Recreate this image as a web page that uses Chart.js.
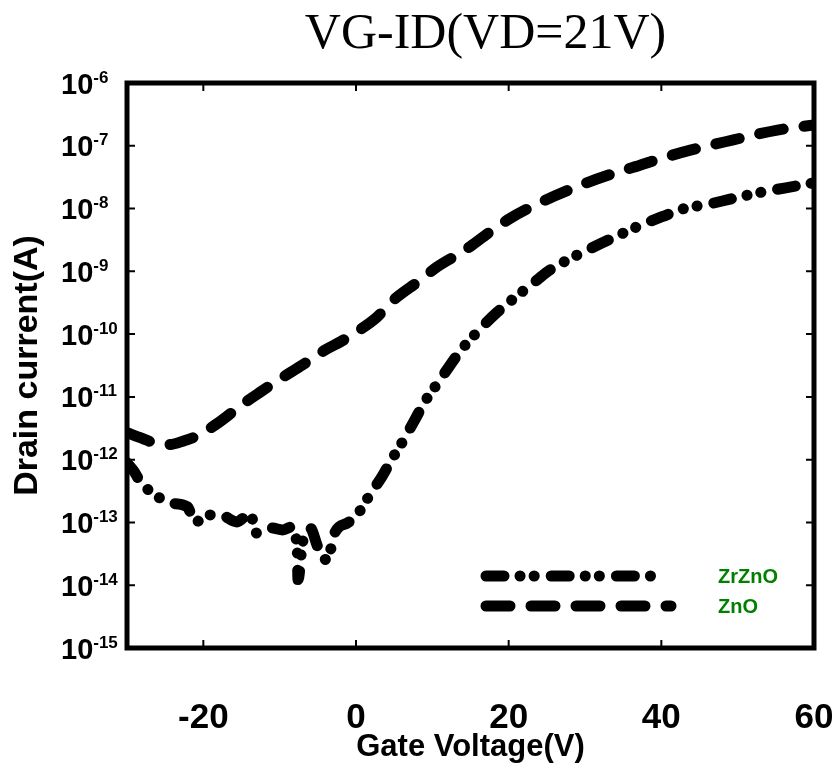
<!DOCTYPE html>
<html>
<head>
<meta charset="utf-8">
<title>VG-ID</title>
<script src="https://cdn.jsdelivr.net/npm/chart.js@4/dist/chart.umd.min.js"></script>
<style>
  html, body { margin: 0; padding: 0; background: #fff; }
  #wrap { width: 835px; height: 769px; }
</style>
</head>
<body>
<div id="wrap"><canvas id="ivChart"></canvas></div>
<script>
// Gate voltage (V) and drain current (A)
const zrVg = [-30, -29, -28.3, -26.3, -24.4, -22.1, -21.1, -19.5, -17.8, -15.6, -13.9, -13.0, -11, -9.6, -8.4, -7.7, -7.6, -7.0, -6.0, -5.0, -3.8, -3.4, -2.8, -1.0, 0.3, 1.8, 3.4, 4.8, 5.5, 7.5, 9, 11, 13.6, 16, 18.5, 21, 23.7, 25.4, 28, 31, 34.5, 37.2, 40.1, 43, 46.1, 49, 52.3, 56.3, 60];
const zrId = [8.9e-13, 6.3e-13, 4.5e-13, 2.75e-13, 2.04e-13, 1.78e-13, 1.0e-13, 1.32e-13, 1.32e-13, 1.02e-13, 1.41e-13, 6.76e-14, 8.13e-14, 7.59e-14, 8.51e-14, 3.63e-14, 1.23e-14, 4.79e-14, 8.13e-14, 4.07e-14, 2.51e-14, 3.39e-14, 6.76e-14, 1.0e-13, 1.41e-13, 2.75e-13, 5.37e-13, 1.07e-12, 1.45e-12, 3.89e-12, 8.32e-12, 1.86e-11, 5.25e-11, 1.12e-10, 2.24e-10, 3.98e-10, 7.24e-10, 1.05e-9, 1.58e-9, 2.40e-9, 3.80e-9, 5.37e-9, 7.41e-9, 1.0e-8, 1.17e-8, 1.41e-8, 1.74e-8, 2.14e-8, 2.57e-8];

const znVg = [-30, -28, -26.5, -24.5, -22.5, -21, -18, -15, -12.5, -10, -7, -4, -2, 0, 2.75, 4.5, 8.4, 10.6, 14.3, 17, 20, 23, 26, 30, 34, 37.2, 39.2, 43.8, 49.3, 55.2, 60];
const znId = [2.69e-12, 2.19e-12, 1.86e-12, 1.74e-12, 2.0e-12, 2.34e-12, 3.89e-12, 7.41e-12, 1.20e-11, 1.91e-11, 3.24e-11, 5.62e-11, 7.59e-11, 1.07e-10, 1.86e-10, 3.16e-10, 7.24e-10, 1.17e-9, 2.19e-9, 3.80e-9, 6.76e-9, 1.07e-8, 1.58e-8, 2.51e-8, 3.72e-8, 4.90e-8, 5.89e-8, 8.51e-8, 1.23e-7, 1.78e-7, 2.14e-7];

const seriesNames = ['ZrZnO', 'ZnO'];
const xTicks = [-20, 0, 20, 40, 60];
const yExps = [-6, -7, -8, -9, -10, -11, -12, -13, -14, -15];
const chartTitle = 'VG-ID(VD=21V)';

const FONT = 'Liberation Sans, Arial, sans-serif';

function toPoints(xs, ys) {
  return xs.map((x, i) => ({ x: x, y: ys[i] }));
}

// box, inward ticks, superscript y labels, title and the legend
const decor = {
  id: 'decor',
  beforeDatasetsDraw(chart) {
    const { ctx, chartArea: a, scales } = chart;
    ctx.save();
    ctx.strokeStyle = '#000';
    ctx.lineWidth = 5;
    ctx.strokeRect(a.left, a.top, a.right - a.left, a.bottom - a.top);
    ctx.lineWidth = 2;
    ctx.beginPath();
    scales.y.ticks.forEach(t => {
      const y = scales.y.getPixelForValue(t.value);
      ctx.moveTo(a.left, y); ctx.lineTo(a.left + 8, y);
      ctx.moveTo(a.right, y); ctx.lineTo(a.right - 8, y);
    });
    scales.x.ticks.forEach(t => {
      const x = scales.x.getPixelForValue(t.value);
      ctx.moveTo(x, a.bottom); ctx.lineTo(x, a.bottom - 8);
      ctx.moveTo(x, a.top); ctx.lineTo(x, a.top + 8);
    });
    ctx.stroke();
    ctx.restore();
  },
  afterDraw(chart) {
    const { ctx, chartArea: a, scales } = chart;
    ctx.save();
    ctx.fillStyle = '#000';
    ctx.textBaseline = 'alphabetic';
    ctx.textAlign = 'left';
    scales.y.ticks.forEach(t => {
      const y = scales.y.getPixelForValue(t.value);
      const exp = Math.round(Math.log10(t.value));
      ctx.font = 'bold 29px ' + FONT;
      ctx.fillText('10', 61, y + 10.5);
      const w = ctx.measureText('10').width;
      ctx.font = 'bold 17px ' + FONT;
      ctx.fillText(String(exp), 61 + w, y - 0.5);
    });

    // title, a little right of the plot centre as in the source
    ctx.font = '50px Liberation Serif, Times New Roman, serif';
    ctx.textAlign = 'center';
    ctx.fillText(chartTitle, (a.left + a.right) / 2 + 15, 48);

    // legend
    ctx.textAlign = 'left';
    const rows = [a.bottom - 72, a.bottom - 42];
    const ends = [656, 671];
    chart.data.datasets.forEach((ds, i) => {
      ctx.strokeStyle = ds.borderColor;
      ctx.lineWidth = ds.borderWidth;
      ctx.lineCap = 'round';
      ctx.setLineDash(ds.borderDash);
      ctx.beginPath();
      ctx.moveTo(486, rows[i]);
      ctx.lineTo(ends[i], rows[i]);
      ctx.stroke();
      ctx.setLineDash([]);
      ctx.fillStyle = '#008000';
      ctx.font = 'bold 20px ' + FONT;
      ctx.textBaseline = 'middle';
      ctx.fillText(ds.label, 718, rows[i] + 1);
    });
    ctx.restore();
  }
};

new Chart(document.getElementById('ivChart'), {
  type: 'line',
  data: {
    datasets: [{
      label: seriesNames[0],
      data: toPoints(zrVg, zrId),
      borderColor: '#000',
      borderWidth: 11,
      borderDash: [18, 16, 0.1, 14, 0.1, 17],
      borderCapStyle: 'round',
      borderJoinStyle: 'round',
      cubicInterpolationMode: 'monotone',
      pointRadius: 0,
      fill: false
    }, {
      label: seriesNames[1],
      data: toPoints(znVg, znId),
      borderColor: '#000',
      borderWidth: 11,
      borderDash: [24, 21],
      borderCapStyle: 'round',
      borderJoinStyle: 'round',
      cubicInterpolationMode: 'monotone',
      pointRadius: 0,
      fill: false
    }]
  },
  options: {
    responsive: true,
    maintainAspectRatio: false,
    animation: false,
    devicePixelRatio: 1,
    layout: { padding: { left: 0, right: 21, top: 83, bottom: 0 } },
    plugins: {
      legend: { display: false },
      tooltip: { enabled: false },
      title: { display: false }
    },
    scales: {
      x: {
        type: 'linear',
        min: -30,
        max: 60,
        afterBuildTicks: s => { s.ticks = xTicks.map(v => ({ value: v })); },
        afterFit: s => { s.height = 121; s.paddingLeft = 0; s.paddingRight = 0; },
        grid: { display: false, drawTicks: false },
        border: { display: false },
        ticks: {
          color: '#000',
          font: { family: FONT, size: 35, weight: 'bold' },
          padding: 49,
          maxRotation: 0,
          autoSkip: false
        },
        title: {
          display: true,
          text: 'Gate Voltage(V)',
          color: '#000',
          font: { family: FONT, size: 31, weight: 'bold' },
          padding: { top: 0, bottom: 3 }
        }
      },
      y: {
        type: 'logarithmic',
        min: 1e-15,
        max: 1e-6,
        afterBuildTicks: s => { s.ticks = yExps.map(e => ({ value: Math.pow(10, e) })); },
        afterFit: s => { s.width = 127; s.paddingTop = 0; s.paddingBottom = 0; },
        grid: { display: false, drawTicks: false },
        border: { display: false },
        ticks: { display: false },
        title: {
          display: true,
          text: 'Drain current(A)',
          color: '#000',
          font: { family: FONT, size: 34, weight: 'bold' },
          padding: { top: 7, bottom: 0 }
        }
      }
    }
  },
  plugins: [decor]
});
</script>
</body>
</html>
